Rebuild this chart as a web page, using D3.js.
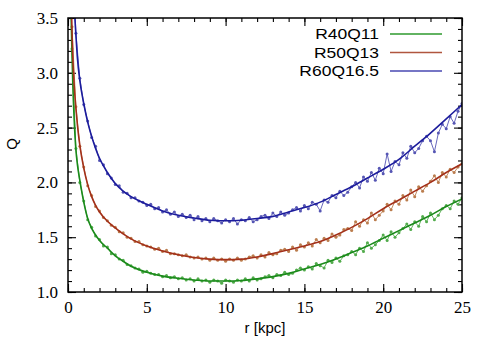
<!DOCTYPE html>
<html>
<head>
<meta charset="utf-8">
<script src="https://cdn.jsdelivr.net/npm/d3@7"></script>
<style>
  body { margin: 0; background: #fff; }
  svg { display: block; }
</style>
</head>
<body>
<div id="chart"></div>
<script>
// radius of each sample [kpc]
const radii = [0.25,0.5,0.75,1,1.25,1.5,1.75,2,2.25,2.5,2.75,3,3.25,3.5,3.75,4,4.25,4.5,4.75,5,
  5.25,5.5,5.75,6,6.25,6.5,6.75,7,7.25,7.5,7.75,8,8.25,8.5,8.75,9,9.25,9.5,9.75,10,
  10.25,10.5,10.75,11,11.25,11.5,11.75,12,12.25,12.5,12.75,13,13.25,13.5,13.75,14,14.25,14.5,14.75,15,
  15.25,15.5,15.75,16,16.25,16.5,16.75,17,17.25,17.5,17.75,18,18.25,18.5,18.75,19,19.25,19.5,19.75,20,
  20.25,20.5,20.75,21,21.25,21.5,21.75,22,22.25,22.5,22.75,23,23.25,23.5,23.75,24,24.25,24.5,24.75,25];

// measured Q
const q40 = [3.22,2.31,2.00,1.83,1.66,1.59,1.51,1.48,1.42,1.41,1.35,1.34,1.30,1.29,1.25,1.24,1.22,1.21,1.18,1.19,
  1.17,1.16,1.16,1.14,1.15,1.13,1.14,1.12,1.13,1.11,1.12,1.10,1.12,1.10,1.11,1.09,1.11,1.10,1.08,1.11,
  1.10,1.09,1.11,1.10,1.12,1.10,1.13,1.11,1.12,1.14,1.15,1.13,1.16,1.15,1.18,1.16,1.17,1.20,1.22,1.20,
  1.23,1.21,1.26,1.24,1.22,1.29,1.27,1.31,1.28,1.33,1.34,1.37,1.34,1.40,1.37,1.45,1.40,1.43,1.47,1.52,
  1.47,1.55,1.50,1.54,1.58,1.62,1.57,1.64,1.60,1.69,1.64,1.72,1.66,1.70,1.76,1.79,1.76,1.83,1.80,1.86];

const q50 = [3.42,2.69,2.33,2.14,1.97,1.88,1.78,1.74,1.68,1.65,1.61,1.59,1.55,1.54,1.50,1.49,1.46,1.46,1.43,1.42,
  1.41,1.39,1.40,1.37,1.38,1.35,1.35,1.34,1.33,1.34,1.32,1.31,1.32,1.30,1.31,1.29,1.31,1.29,1.30,1.28,
  1.30,1.29,1.31,1.29,1.30,1.32,1.33,1.31,1.34,1.32,1.36,1.34,1.35,1.38,1.39,1.37,1.41,1.38,1.43,1.41,
  1.45,1.42,1.48,1.45,1.49,1.47,1.53,1.50,1.52,1.57,1.58,1.56,1.64,1.60,1.66,1.63,1.72,1.66,1.70,1.74,
  1.80,1.75,1.83,1.80,1.88,1.84,1.93,1.87,1.96,1.92,1.97,2.01,2.06,2.00,2.09,2.05,2.12,2.09,2.14,2.17];

const q60 = [4.30,3.36,2.95,2.71,2.56,2.41,2.33,2.20,2.16,2.08,2.04,1.98,1.97,1.91,1.90,1.86,1.86,1.83,1.82,1.79,
  1.80,1.76,1.77,1.73,1.75,1.71,1.73,1.69,1.71,1.68,1.70,1.66,1.69,1.65,1.67,1.64,1.67,1.65,1.63,1.66,
  1.64,1.67,1.62,1.66,1.65,1.68,1.64,1.66,1.69,1.70,1.67,1.72,1.69,1.73,1.70,1.72,1.75,1.77,1.74,1.79,
  1.76,1.82,1.80,1.74,1.84,1.82,1.88,1.86,1.92,1.88,1.91,1.96,2.00,1.95,2.05,2.01,2.09,2.02,2.13,2.08,
  2.26,2.10,2.19,2.16,2.27,2.22,2.33,2.27,2.31,2.38,2.42,2.38,2.28,2.45,2.53,2.49,2.60,2.54,2.65,2.72];

// fitted curves
const fitRadii = [0.15,0.2,0.25,0.3,0.4,0.5,0.6,0.75,1,1.25,1.5,1.75,2,2.5,3,3.5,4,5,6,7,8,9,10,
  11,12,13,14,15,16,17,18,19,20,21,22,23,24,25];
const fit40 = [3.90,3.50,3.20,2.92,2.55,2.30,2.16,2.02,1.82,1.67,1.58,1.52,1.47,1.40,1.33,1.28,1.235,1.18,1.145,1.125,1.11,1.10,1.10,
  1.105,1.12,1.14,1.17,1.21,1.25,1.30,1.36,1.42,1.49,1.56,1.63,1.70,1.78,1.85];
const fit50 = [4.30,3.75,3.40,3.16,2.87,2.68,2.52,2.34,2.13,1.98,1.87,1.79,1.73,1.645,1.585,1.53,1.485,1.42,1.375,1.34,1.315,1.30,1.295,
  1.30,1.32,1.35,1.385,1.42,1.46,1.52,1.59,1.67,1.76,1.84,1.92,2.00,2.09,2.17];
const fit60 = [5.50,4.80,4.30,3.95,3.60,3.35,3.13,2.93,2.72,2.55,2.42,2.31,2.22,2.09,1.99,1.92,1.87,1.80,1.74,1.70,1.675,1.655,1.65,
  1.655,1.67,1.69,1.73,1.77,1.82,1.89,1.96,2.04,2.12,2.21,2.33,2.45,2.58,2.71];

const seriesNames = ["R40Q11", "R50Q13", "R60Q16.5"];
const lineColors = ["#1b8a1b", "#a3301a", "#1c1c9c"];
const pointColors = ["#52ac4c", "#bb7d4e", "#5656b4"];
const legendColors = ["#2e9a2e", "#b0563e", "#4848b2"];

const xMajor = [0, 5, 10, 15, 20, 25];
const xMinor = d3.range(0, 26, 1);
const yMajor = [1.0, 1.5, 2.0, 2.5, 3.0, 3.5];
const yMinor = d3.range(1.0, 3.51, 0.1);

const width = 491, height = 343;
const margin = { top: 18, right: 29, bottom: 51, left: 68 };

const svg = d3.select("#chart").append("svg")
    .attr("width", width)
    .attr("height", height);

const x = d3.scaleLinear().domain([0, 25]).range([margin.left, width - margin.right]);
const y = d3.scaleLinear().domain([1.0, 3.5]).range([height - margin.bottom, margin.top]);

svg.append("clipPath").attr("id", "plot-clip")
  .append("rect")
    .attr("x", x(0)).attr("y", y(3.5))
    .attr("width", x(25) - x(0)).attr("height", y(1.0) - y(3.5));

// axes: major and minor ticks on every side, pointing inward
function drawAxis(axisFn, pos, transform, ticks, size, labels) {
  const ax = axisFn(pos).tickValues(ticks).tickSize(-size).tickPadding(10);
  if (!labels) ax.tickFormat("");
  const g = svg.append("g").attr("transform", transform).call(ax);
  g.select(".domain").remove();
  g.selectAll(".tick line").attr("stroke", "#000").attr("stroke-width", 1.1);
  g.selectAll(".tick text")
    .attr("fill", "#000")
    .style("font-family", "'Liberation Serif', 'Times New Roman', serif")
    .style("font-size", "17px");
  return g;
}
drawAxis(d3.axisBottom, x, `translate(0,${y(1.0)})`, xMinor, 4, false);
drawAxis(d3.axisBottom, x, `translate(0,${y(1.0)})`, xMajor, 8, true)
  .selectAll(".tick text").attr("dy", null).attr("y", 21);
drawAxis(d3.axisTop, x, `translate(0,${y(3.5)})`, xMinor, 4, false);
drawAxis(d3.axisTop, x, `translate(0,${y(3.5)})`, xMajor, 8, false);
drawAxis(d3.axisLeft, y, `translate(${x(0)},0)`, yMinor, 4, false);
drawAxis(d3.axisLeft, y, `translate(${x(0)},0)`, yMajor, 8, true)
  .call(g => g.selectAll(".tick text").text(d => d3.format(".1f")(d)));
drawAxis(d3.axisRight, y, `translate(${x(25)},0)`, yMinor, 4, false);
drawAxis(d3.axisRight, y, `translate(${x(25)},0)`, yMajor, 8, false);

// data
const plot = svg.append("g").attr("clip-path", "url(#plot-clip)");
const measured = [q40, q50, q60];
const fits = [fit40, fit50, fit60];

measured.forEach((vals, i) => {
  const pts = radii.map((r, j) => [r, vals[j]]);
  plot.append("path")
    .datum(pts)
    .attr("fill", "none")
    .attr("stroke", pointColors[i])
    .attr("stroke-width", 0.9)
    .attr("d", d3.line().x(d => x(d[0])).y(d => y(d[1])));
  plot.append("g").selectAll("circle")
    .data(pts)
    .join("circle")
    .attr("cx", d => x(d[0]))
    .attr("cy", d => y(d[1]))
    .attr("r", 1.5)
    .attr("fill", pointColors[i]);
});

fits.forEach((vals, i) => {
  plot.append("path")
    .datum(fitRadii.map((r, j) => [r, vals[j]]))
    .attr("fill", "none")
    .attr("stroke", lineColors[i])
    .attr("stroke-width", 1.6)
    .attr("d", d3.line().curve(d3.curveMonotoneX).x(d => x(d[0])).y(d => y(d[1])));
});

// frame
svg.append("rect")
  .attr("x", x(0)).attr("y", y(3.5))
  .attr("width", x(25) - x(0)).attr("height", y(1.0) - y(3.5))
  .attr("fill", "none").attr("stroke", "#000").attr("stroke-width", 1.5);

// legend
const legend = svg.append("g");
seriesNames.forEach((name, i) => {
  const ly = 34 + i * 18.5;
  legend.append("text")
    .attr("transform", `translate(379,${ly + 5}) scale(1.25,1)`)
    .attr("text-anchor", "end")
    .style("font-family", "'Liberation Sans', Arial, sans-serif")
    .style("font-size", "14px")
    .text(name);
  legend.append("line")
    .attr("x1", 390).attr("x2", 442)
    .attr("y1", ly).attr("y2", ly)
    .attr("stroke", legendColors[i])
    .attr("stroke-width", 1.6);
});

// axis titles
svg.append("text")
  .attr("transform", `translate(17,${(y(1.0) + y(3.5)) / 2 - 11}) rotate(-90)`)
  .attr("text-anchor", "middle")
  .style("font-family", "'Liberation Sans', Arial, sans-serif")
  .style("font-size", "15px")
  .text("Q");

svg.append("text")
  .attr("x", (x(0) + x(25)) / 2)
  .attr("y", 333)
  .attr("text-anchor", "middle")
  .style("font-family", "'Liberation Sans', Arial, sans-serif")
  .style("font-size", "15px")
  .text("r [kpc]");
</script>
</body>
</html>
